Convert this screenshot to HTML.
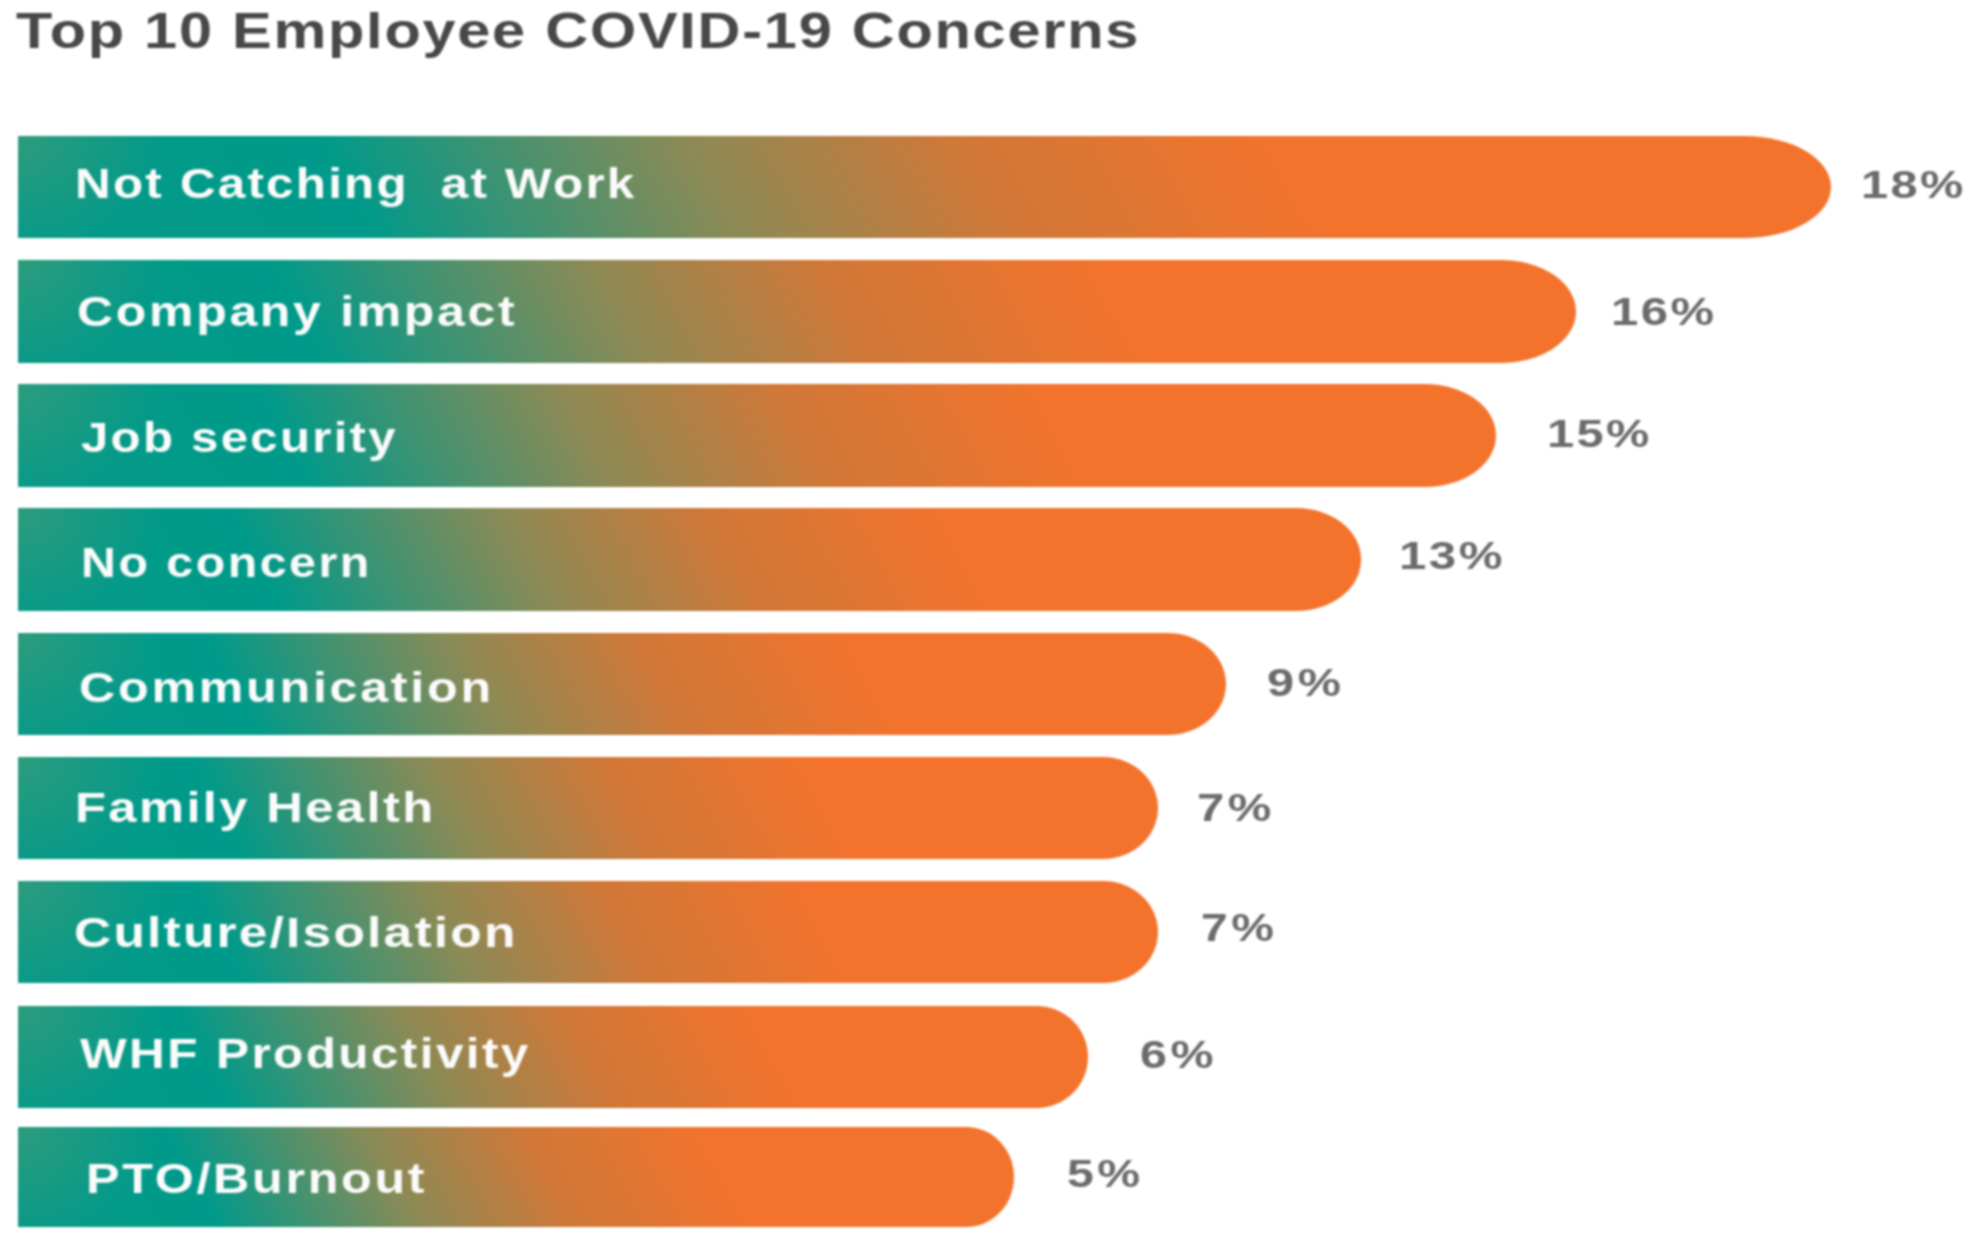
<!DOCTYPE html>
<html><head><meta charset="utf-8"><style>
html,body{margin:0;padding:0;background:#fff;}
body{width:1980px;height:1240px;position:relative;overflow:hidden;}
.wrap{position:absolute;left:0;top:0;width:1980px;height:1240px;filter:blur(0.8px);}
.t{position:absolute;font-family:"Liberation Sans",sans-serif;font-weight:bold;white-space:pre;transform-origin:0 0;}
.bar{position:absolute;border-radius:0 4.8% 4.8% 0 / 0 50% 50% 0;
background:radial-gradient(ellipse 140px 115px at 0 0,rgba(78,156,116,.55),rgba(78,156,116,0)),linear-gradient(62deg,#069a88 0%,#009a8a 19%,#8c8a55 38.5%,#d07838 53%,#f4732c 71%,#f4732c 100%);}
</style></head><body><div class="wrap">

<div class="bar" style="left:17.5px;top:135.5px;width:1813.0px;height:102.8px"></div>
<div class="bar" style="left:17.5px;top:260px;width:1558.5px;height:102.6px"></div>
<div class="bar" style="left:17.5px;top:383.5px;width:1478.5px;height:103.3px"></div>
<div class="bar" style="left:17.5px;top:508.4px;width:1343.5px;height:102.2px"></div>
<div class="bar" style="left:17.5px;top:632.6px;width:1208.3px;height:102.2px"></div>
<div class="bar" style="left:17.5px;top:756.8px;width:1140.5px;height:102.2px"></div>
<div class="bar" style="left:17.5px;top:880.8px;width:1140.0px;height:102.7px"></div>
<div class="bar" style="left:17.5px;top:1005.5px;width:1070.1px;height:102.9px"></div>
<div class="bar" style="left:17.5px;top:1126.5px;width:996.5px;height:100.5px"></div>
<div class="t" style="left:16.11px;top:5.75px;font-size:50.50px;line-height:50.50px;letter-spacing:1.485px;color:#484848;transform:scaleX(1.1776);">Top 10 Employee COVID-19 Concerns</div>
<div class="t" style="left:74.79px;top:163.22px;font-size:42.50px;line-height:42.50px;letter-spacing:1.914px;color:#fbfbfb;transform:scaleX(1.1618);">Not Catching  at Work</div>
<div class="t" style="left:77.40px;top:291.22px;font-size:42.50px;line-height:42.50px;letter-spacing:2.276px;color:#fbfbfb;transform:scaleX(1.1766);">Company impact</div>
<div class="t" style="left:81.26px;top:417.22px;font-size:42.50px;line-height:42.50px;letter-spacing:1.972px;color:#fbfbfb;transform:scaleX(1.1561);">Job security</div>
<div class="t" style="left:80.76px;top:542.22px;font-size:42.50px;line-height:42.50px;letter-spacing:2.207px;color:#fbfbfb;transform:scaleX(1.1361);">No concern</div>
<div class="t" style="left:78.59px;top:666.82px;font-size:42.50px;line-height:42.50px;letter-spacing:2.296px;color:#fbfbfb;transform:scaleX(1.1818);">Communication</div>
<div class="t" style="left:74.50px;top:786.92px;font-size:42.50px;line-height:42.50px;letter-spacing:1.963px;color:#fbfbfb;transform:scaleX(1.1942);">Family Health</div>
<div class="t" style="left:73.64px;top:912.42px;font-size:42.50px;line-height:42.50px;letter-spacing:1.799px;color:#fbfbfb;transform:scaleX(1.2124);">Culture/Isolation</div>
<div class="t" style="left:79.80px;top:1033.22px;font-size:42.50px;line-height:42.50px;letter-spacing:2.051px;color:#fbfbfb;transform:scaleX(1.1647);">WHF Productivity</div>
<div class="t" style="left:85.53px;top:1157.92px;font-size:42.50px;line-height:42.50px;letter-spacing:2.264px;color:#fbfbfb;transform:scaleX(1.1825);">PTO/Burnout</div>
<div class="t" style="left:1860.83px;top:166.41px;font-size:38.50px;line-height:38.50px;letter-spacing:1.935px;color:#6b6b6b;transform:scaleX(1.2661);">18%</div>
<div class="t" style="left:1611.32px;top:292.91px;font-size:38.50px;line-height:38.50px;letter-spacing:1.935px;color:#6b6b6b;transform:scaleX(1.2725);">16%</div>
<div class="t" style="left:1546.83px;top:414.91px;font-size:38.50px;line-height:38.50px;letter-spacing:1.935px;color:#6b6b6b;transform:scaleX(1.2661);">15%</div>
<div class="t" style="left:1399.40px;top:537.41px;font-size:38.50px;line-height:38.50px;letter-spacing:1.935px;color:#6b6b6b;transform:scaleX(1.2790);">13%</div>
<div class="t" style="left:1267.30px;top:664.41px;font-size:38.50px;line-height:38.50px;letter-spacing:2.806px;color:#6b6b6b;transform:scaleX(1.2649);">9%</div>
<div class="t" style="left:1196.79px;top:789.41px;font-size:38.50px;line-height:38.50px;letter-spacing:2.786px;color:#6b6b6b;transform:scaleX(1.2741);">7%</div>
<div class="t" style="left:1201.34px;top:908.71px;font-size:38.50px;line-height:38.50px;letter-spacing:2.786px;color:#6b6b6b;transform:scaleX(1.2472);">7%</div>
<div class="t" style="left:1140.31px;top:1036.41px;font-size:38.50px;line-height:38.50px;letter-spacing:2.806px;color:#6b6b6b;transform:scaleX(1.2578);">6%</div>
<div class="t" style="left:1066.55px;top:1154.91px;font-size:38.50px;line-height:38.50px;letter-spacing:2.817px;color:#6b6b6b;transform:scaleX(1.2515);">5%</div>
</div></body></html>
